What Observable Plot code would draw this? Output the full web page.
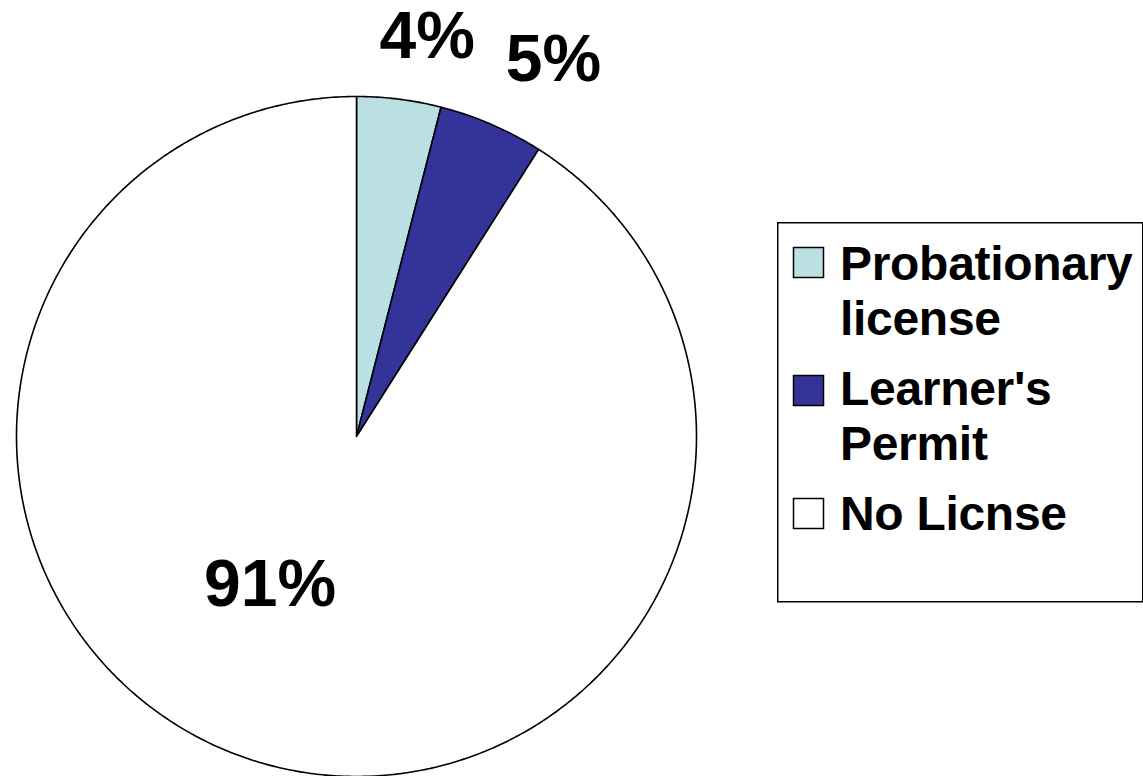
<!DOCTYPE html>
<html><head><meta charset="utf-8">
<script src="https://cdn.jsdelivr.net/npm/d3@7"></script>
<script src="https://cdn.jsdelivr.net/npm/@observablehq/plot@0.6"></script>
<style>
html,body{margin:0;padding:0;background:#fff;overflow:hidden;}
#wrap{position:relative;width:1143px;height:776px;font-family:Arial,"Liberation Sans",sans-serif;}
#legend{position:absolute;left:777px;top:222px;}
</style></head><body><div id="wrap"></div>
<script>
// ---- data ----
const categories = ["Probationary license", "Learner's Permit", "No Licnse"];
const legendLines = [["Probationary", "license"], ["Learner's", "Permit"], ["No Licnse"]];
const values = [4, 5, 91];
const colors = ["#BBE0E3", "#333399", "#FFFFFF"];

// ---- layout / style (not data) ----
const labelRadius = [1.19, 1.2, 0.5];
const labelNudge = [[20, 2], [35, -2], [-39, -15]];
const FONT = "Arial, 'Liberation Sans', sans-serif";

const total = d3.sum(values);
const slices = [];
let acc = 0;
categories.forEach((c, i) => {
  const a0 = acc / total * 2 * Math.PI;
  acc += values[i];
  const a1 = acc / total * 2 * Math.PI;
  slices.push({cat: c, value: values[i], a0, a1, mid: (a0 + a1) / 2, i});
});

// outline points of each slice (geometry sampled from the slice angles)
const pts = [];
for (const s of slices) {
  pts.push({cat: s.cat, x: 0, y: 0});
  const n = Math.max(2, Math.ceil((s.a1 - s.a0) / (Math.PI / 360)));
  for (let k = 0; k <= n; k++) {
    const a = s.a0 + (s.a1 - s.a0) * k / n;
    pts.push({cat: s.cat, x: Math.sin(a), y: Math.cos(a)});
  }
  pts.push({cat: s.cat, x: 0, y: 0});
}

const labelMarks = slices.map(s => Plot.text([s], {
  x: d => labelRadius[d.i] * Math.sin(d.mid),
  y: d => labelRadius[d.i] * Math.cos(d.mid),
  text: d => d.value + "%",
  dx: labelNudge[s.i][0],
  dy: labelNudge[s.i][1],
  fontSize: 66,
  fontWeight: "bold",
  fontFamily: FONT,
  fill: "#000",
  textAnchor: "middle"
}));

const chart = Plot.plot({
  width: 1143,
  height: 776,
  margin: 0,
  x: {type: "linear", domain: [-1, 1], range: [16, 696], axis: null},
  y: {type: "linear", domain: [-1, 1], range: [776, 96], axis: null},
  color: {type: "ordinal", domain: categories, range: colors},
  style: {background: "#fff", overflow: "visible"},
  marks: [
    Plot.line(pts, {x: "x", y: "y", z: "cat", fill: "cat", stroke: "#000", strokeWidth: 1.6, strokeLinejoin: "round", curve: "linear"}),
    ...labelMarks
  ]
});
const wrap = document.getElementById("wrap");
wrap.appendChild(chart);

// ---- legend (right side box) ----
const legW = 365, legH = 379;
const leg = d3.select(wrap).append("svg")
  .attr("id", "legend")
  .attr("width", legW + 2).attr("height", legH + 2)
  .style("overflow", "visible");
leg.append("rect").attr("x", 0.75).attr("y", 0.75).attr("width", legW).attr("height", legH)
  .attr("fill", "#fff").attr("stroke", "#000").attr("stroke-width", 1.5);
const markerY = [25, 153, 276];
const baselines = [[58, 113], [183, 238], [308]];
categories.forEach((c, i) => {
  leg.append("rect").attr("x", 16.5).attr("y", markerY[i] + 0.5).attr("width", 30).attr("height", 30)
    .attr("fill", colors[i]).attr("stroke", "#000").attr("stroke-width", 1.5);
  legendLines[i].forEach((t, j) => {
    leg.append("text").attr("x", 63).attr("y", baselines[i][j]).text(t)
      .attr("font-family", FONT).attr("font-weight", "bold").attr("font-size", 48)
      .attr("letter-spacing", -0.3).attr("fill", "#000");
  });
});
</script>
</body></html>
